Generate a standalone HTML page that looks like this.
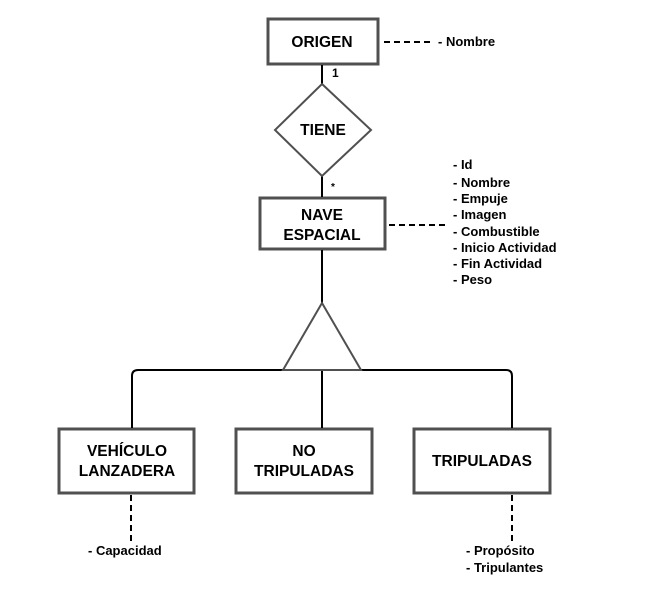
<!DOCTYPE html>
<html><head><meta charset="utf-8"><style>
html,body{margin:0;padding:0;background:#fff;}
svg{display:block;}
text{font-family:"Liberation Sans",Arial,sans-serif;font-weight:bold;fill:#000;}
</style></head><body>
<svg width="658" height="593" viewBox="0 0 658 593" xmlns="http://www.w3.org/2000/svg">
<g fill="#fff" stroke="#505050" stroke-width="3">
<rect x="268" y="19" width="110" height="45"/>
<rect x="260" y="198" width="125" height="51"/>
<rect x="59" y="429" width="135" height="64"/>
<rect x="236" y="429" width="136" height="64"/>
<rect x="414" y="429" width="136" height="64"/>
</g>
<g stroke="#000" stroke-width="2" fill="none">
<line x1="322" y1="65" x2="322" y2="84"/>
<line x1="322" y1="176" x2="322" y2="197"/>
<line x1="322" y1="250" x2="322" y2="303"/>
<path d="M132 428 V376 Q132 370 138 370 H506 Q512 370 512 376 V428"/>
<line x1="322" y1="370" x2="322" y2="428"/>
</g>
<polygon points="322,84 371,130 322,176 275,130" fill="#fff" stroke="#505050" stroke-width="2"/>
<polygon points="322,303 361,370 283,370" fill="#fff" stroke="#505050" stroke-width="2"/>
<g stroke="#000" stroke-width="2" stroke-dasharray="6,4" fill="none">
<line x1="384" y1="42" x2="434" y2="42"/>
<line x1="389" y1="225" x2="448" y2="225"/>
<line x1="131" y1="495" x2="131" y2="541"/>
<line x1="512" y1="495" x2="512" y2="541"/>
</g>
<g font-size="15.5" text-anchor="middle">
<text x="322" y="47">ORIGEN</text>
<text x="323" y="135">TIENE</text>
<text x="322" y="220">NAVE</text>
<text x="322" y="240">ESPACIAL</text>
<text x="127" y="456">VEHÍCULO</text>
<text x="127" y="476">LANZADERA</text>
<text x="304" y="456">NO</text>
<text x="304" y="476">TRIPULADAS</text>
<text x="482" y="466">TRIPULADAS</text>
</g>
<g font-size="13">
<text x="332" y="77" font-weight="normal" fill="#333" font-size="12">1</text>
<text x="331" y="190" font-weight="normal" font-size="10">*</text>
<text x="438" y="46">- Nombre</text>
<text x="453" y="169">- Id</text>
<text x="453" y="187">- Nombre</text>
<text x="453" y="203">- Empuje</text>
<text x="453" y="219">- Imagen</text>
<text x="453" y="236">- Combustible</text>
<text x="453" y="252">- Inicio Actividad</text>
<text x="453" y="268">- Fin Actividad</text>
<text x="453" y="284">- Peso</text>
<text x="88" y="555">- Capacidad</text>
<text x="466" y="555">- Propósito</text>
<text x="466" y="572">- Tripulantes</text>
</g>
</svg>
</body></html>
